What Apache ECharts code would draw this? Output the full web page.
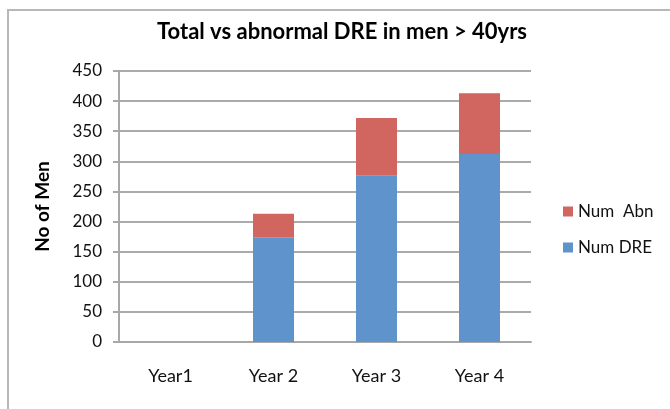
<!DOCTYPE html>
<html>
<head>
<meta charset="utf-8">
<script src="https://cdn.jsdelivr.net/npm/echarts@6/dist/echarts.min.js"></script>
<style>
  html, body { margin: 0; padding: 0; background: #fff; }
  #main { width: 670px; height: 409px; }
</style>
</head>
<body>
<div id="main"></div>
<script>
const years = ['Year1', 'Year 2', 'Year 3', 'Year 4'];
const numDre = [null, 174, 276, 312];
const numAbn = [null, 39, 96, 101];
const yTicks = { min: 0, max: 450, interval: 50 };

const chart = echarts.init(document.getElementById('main'));
const font = 'Lato, "Open Sans", sans-serif';

chart.setOption({
  animation: false,
  textStyle: { fontFamily: font },
  title: {
    text: 'Total vs abnormal DRE in men > 40yrs',
    left: 342,
    textAlign: 'center',
    top: 21,
    padding: 0,
    textStyle: { fontSize: 22, fontWeight: 'bold', color: '#000', fontFamily: font }
  },
  // outer frame of the chart, cropped at right and bottom
  graphic: [{
    type: 'rect',
    shape: { x: 8, y: 10, width: 720, height: 460 },
    style: { fill: 'none', stroke: '#b8b8b8', lineWidth: 2 },
    silent: true,
    z: -1
  }],
  legend: {
    orient: 'vertical',
    left: 563,
    top: 203,
    padding: 0,
    itemWidth: 10,
    itemHeight: 10,
    itemGap: 19,
    icon: 'rect',
    data: ['Num  Abn', 'Num DRE'],
    textStyle: { fontSize: 17, color: '#111', fontFamily: font }
  },
  grid: { left: 119, right: 139, top: 71, bottom: 67, containLabel: false },
  xAxis: {
    type: 'category',
    data: years,
    axisLine: { lineStyle: { color: '#a8a8a8', width: 2 } },
    axisTick: { show: false },
    axisLabel: { margin: 25, fontSize: 18, color: '#111', fontFamily: font }
  },
  yAxis: {
    type: 'value',
    min: yTicks.min,
    max: yTicks.max,
    interval: yTicks.interval,
    name: 'No of Men',
    nameLocation: 'middle',
    nameGap: 67,
    nameRotate: 90,
    nameTextStyle: { fontSize: 19, fontWeight: 'bold', color: '#000', fontFamily: font },
    axisLine: { show: true, lineStyle: { color: '#a8a8a8', width: 2 } },
    axisTick: { show: true, length: 6, lineStyle: { color: '#a8a8a8', width: 2 } },
    axisLabel: { margin: 17, fontSize: 17, color: '#111', fontFamily: font },
    splitLine: { lineStyle: { color: '#ababab', width: 2 } }
  },
  series: [
    {
      name: 'Num DRE',
      type: 'bar',
      stack: 'total',
      data: numDre,
      barWidth: 41,
      itemStyle: { color: '#5f93cb' }
    },
    {
      name: 'Num  Abn',
      type: 'bar',
      stack: 'total',
      data: numAbn,
      barWidth: 41,
      itemStyle: { color: '#d0665f' }
    }
  ]
});
</script>
</body>
</html>
